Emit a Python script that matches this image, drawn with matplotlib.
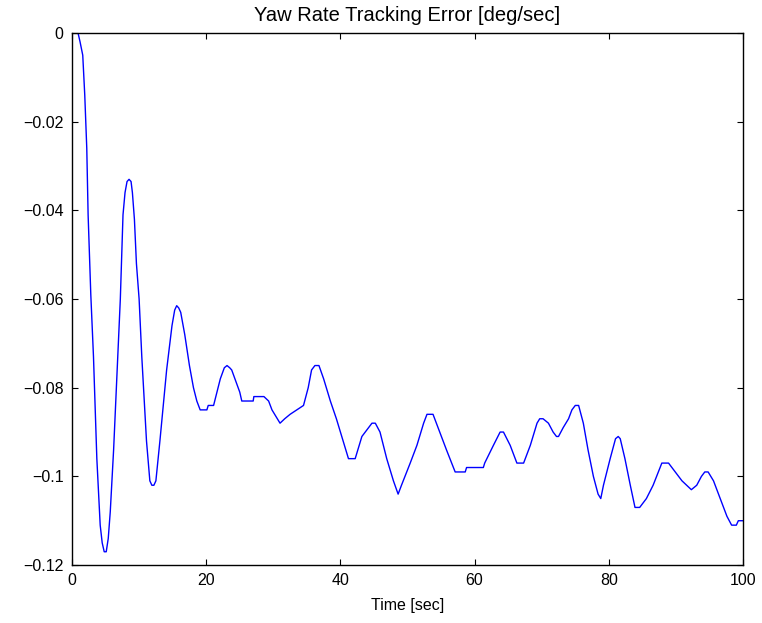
import matplotlib
matplotlib.use("Agg")
import matplotlib.pyplot as plt
from matplotlib.ticker import FuncFormatter

plt.rcParams['font.family'] = ['Liberation Sans', 'DejaVu Sans']

# Time samples [sec]
time_s = [
    0.0, 0.9, 1.2, 1.6, 1.9, 2.2, 2.4, 2.8, 3.2, 3.7, 4.2, 4.5, 4.8, 5.1, 5.4,
    5.7, 6.2, 6.7, 7.2, 7.6, 7.9, 8.2, 8.5, 8.8, 9.0, 9.3, 9.6, 10.0, 10.4,
    11.1, 11.6, 11.9, 12.2, 12.5, 13.1, 14.1, 14.9, 15.3, 15.6, 15.9, 16.2,
    16.8, 17.5, 18.1, 18.6, 19.1, 20.1, 20.3, 21.1, 22.1, 22.7, 23.1, 23.5,
    23.8, 25.0, 25.3, 27.0, 27.1, 28.6, 29.3, 29.8, 31.0, 31.7, 32.5, 33.5,
    34.5, 35.2, 35.7, 36.2, 36.8, 37.5, 38.5, 39.4, 40.4, 41.2, 42.2, 43.2,
    44.7, 45.2, 45.9, 46.9, 47.9, 48.6, 49.1, 50.4, 51.4, 52.4, 52.9, 53.8,
    54.8, 55.8, 57.1, 58.6, 58.8, 61.3, 61.5, 62.8, 63.8, 64.3, 65.3, 66.3,
    67.3, 68.3, 69.3, 69.7, 70.2, 71.0, 71.7, 72.2, 72.5, 73.2, 74.0, 74.5,
    75.0, 75.5, 76.2, 76.9, 77.7, 78.4, 78.8, 79.2, 80.2, 81.0, 81.4, 81.7,
    82.4, 83.2, 83.9, 84.6, 85.6, 86.6, 87.9, 88.9, 89.9, 90.9, 91.6, 92.3,
    93.1, 93.8, 94.3, 94.8, 95.6, 96.6, 97.6, 98.3, 99.0, 99.3, 100.0,
]

# Yaw rate tracking error [deg/sec]
yaw_err = [
    0.000, 0.000, -0.002, -0.005, -0.014, -0.026, -0.041, -0.059, -0.073,
    -0.096, -0.111, -0.115, -0.117, -0.117, -0.114, -0.108, -0.094, -0.077,
    -0.060, -0.041, -0.036, -0.0335, -0.033, -0.0335, -0.036, -0.042, -0.052,
    -0.060, -0.073, -0.092, -0.101, -0.102, -0.102, -0.101, -0.092, -0.076,
    -0.066, -0.0625, -0.0615, -0.062, -0.063, -0.068, -0.075, -0.080, -0.083,
    -0.085, -0.085, -0.084, -0.084, -0.078, -0.0755, -0.075, -0.0755, -0.076,
    -0.081, -0.083, -0.083, -0.082, -0.082, -0.083, -0.085, -0.088, -0.087,
    -0.086, -0.085, -0.084, -0.080, -0.076, -0.075, -0.075, -0.078, -0.083,
    -0.087, -0.092, -0.096, -0.096, -0.091, -0.088, -0.088, -0.090, -0.096,
    -0.101, -0.104, -0.102, -0.097, -0.093, -0.088, -0.086, -0.086, -0.090,
    -0.094, -0.099, -0.099, -0.098, -0.098, -0.097, -0.093, -0.090, -0.090,
    -0.093, -0.097, -0.097, -0.093, -0.088, -0.087, -0.087, -0.088, -0.090,
    -0.091, -0.091, -0.089, -0.087, -0.085, -0.084, -0.084, -0.088, -0.094,
    -0.100, -0.104, -0.105, -0.102, -0.096, -0.0915, -0.091, -0.0915, -0.096,
    -0.102, -0.107, -0.107, -0.105, -0.102, -0.097, -0.097, -0.099, -0.101,
    -0.102, -0.103, -0.102, -0.100, -0.099, -0.099, -0.101, -0.105, -0.109,
    -0.111, -0.111, -0.110, -0.110,
]

x_ticks = [0, 20, 40, 60, 80, 100]
y_ticks = [-0.12, -0.1, -0.08, -0.06, -0.04, -0.02, 0]

fig = plt.figure(figsize=(7.62, 6.23), dpi=100)
ax = fig.add_axes([0.0945, 0.093, 0.8806, 0.854])

ax.plot(time_s, yaw_err, color=(0, 0, 1), linewidth=1.0)

ax.set_xlim(0, 100)
ax.set_ylim(-0.12, 0)
ax.set_xticks(x_ticks)
ax.set_yticks(y_ticks)
ax.yaxis.set_major_formatter(FuncFormatter(lambda v, p: "0" if v == 0 else ("%g" % v).replace("-", "\u2212")))
ax.tick_params(direction='in', length=4, width=0.8, labelsize=11.5,
               top=True, right=True, pad=6)
for s in ax.spines.values():
    s.set_linewidth(1.0)
    s.set_color('black')

ax.set_title("Yaw Rate Tracking Error [deg/sec]", fontsize=14.5, pad=9)
ax.set_xlabel("Time [sec]", fontsize=11.5, labelpad=7)

fig.savefig("out.png", dpi=100)
